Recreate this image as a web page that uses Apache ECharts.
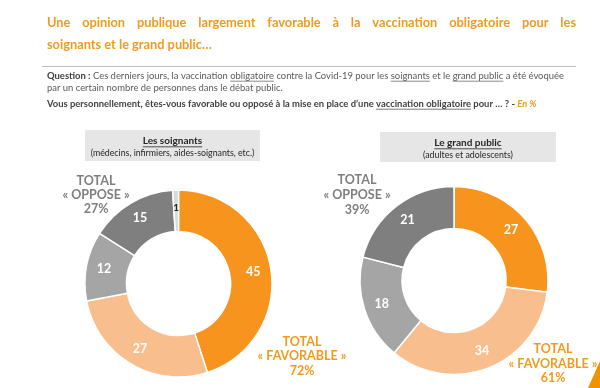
<!DOCTYPE html>
<html><head><meta charset="utf-8">
<script src="https://cdn.jsdelivr.net/npm/echarts@6/dist/echarts.min.js"></script>
<style>html,body{margin:0;padding:0;background:#fff}#c{width:600px;height:388px}</style>
</head><body><div id="c"></div>
<script>
const categories = ['Très favorable', 'Plutôt favorable', 'Plutôt opposé', 'Très opposé', 'Ne se prononce pas'];
const soignantsValues = [45, 27, 12, 15, 1];
const publicValues = [27, 34, 18, 21];
const soignantsTotals = ['72%', '27%'];
const publicTotals = ['61%', '39%'];

const FAM = 'Lato';
const ORANGE = '#F39A1E';
const colors = ['#F7941D', '#F9BE8D', '#A5A5A5', '#7F7F7F', '#D9D9D9'];

const cv = document.createElement('canvas').getContext('2d');
function mw(t, f) { cv.font = f; return cv.measureText(t).width; }
const els = [];
function txt(x, y, t, font, fill, align) {
  els.push({ type: 'text', silent: true, style: { x, y, text: t, font, fill, textAlign: align || 'left', align: align || 'left', textVerticalAlign: 'middle', verticalAlign: 'middle' } });
}
function hline(x1, x2, y, stroke, w) {
  els.push({ type: 'line', silent: true, shape: { x1, y1: y, x2, y2: y }, style: { stroke, lineWidth: w || 0.8 } });
}
// segments: [text, weight, color, underline, italic]
function seqLine(x, y, segs, size) {
  segs.forEach(s => {
    const f = (s[4] ? 'italic ' : '') + s[1] + ' ' + size + 'px ' + FAM;
    const w = mw(s[0], f);
    txt(x, y, s[0], f, s[2]);
    if (s[3]) hline(x, x + w, y + size * 0.55, s[2], 0.7);
    x += w;
  });
  return x;
}

// Title
const t2 = 'soignants et le grand public…';
const tSize = 100 * 165 / mw(t2, 'bold 100px ' + FAM);
const tFont = 'bold ' + tSize.toFixed(2) + 'px ' + FAM;
const words = 'Une opinion publique largement favorable à la vaccination obligatoire pour les'.split(' ');
const wsum = words.reduce((a, w) => a + mw(w, tFont), 0);
const gap = (529 - wsum) / (words.length - 1);
let wx = 47;
words.forEach(w => { txt(wx, 23, w, tFont, ORANGE); wx += mw(w, tFont) + gap; });
txt(47, 45, t2, tFont, ORANGE);
hline(42, 576, 66.5, '#BFBFBF', 1.2);

// Question
const q1 = [['Question :', 'bold', '#404040'], [' Ces derniers jours, la vaccination ', 'normal', '#595959'], ['obligatoire', 'normal', '#595959', 1], [' contre la Covid-19 pour les ', 'normal', '#595959'], ['soignants', 'normal', '#595959', 1], [' et le ', 'normal', '#595959'], ['grand public', 'normal', '#595959', 1], [' a été évoquée', 'normal', '#595959']];
let qw = 0; q1.forEach(s => qw += mw(s[0], s[1] + ' 100px ' + FAM));
const qSize = +(100 * 518 / qw).toFixed(2);
seqLine(47, 76, q1, qSize);
seqLine(47, 88, [['par un certain nombre de personnes dans le débat public.', 'normal', '#595959']], qSize);
seqLine(47, 104, [['Vous personnellement, êtes-vous favorable ou opposé à la mise en place d’une ', 'bold', '#404040'], ['vaccination obligatoire', 'bold', '#404040', 1], [' pour … ? - ', 'bold', '#404040'], ['En %', 'bold', ORANGE, 0, 1]], qSize);

// Header boxes
els.push({ type: 'rect', silent: true, shape: { x: 85, y: 130, width: 175, height: 31 }, style: { fill: '#E7E6E6' } });
els.push({ type: 'rect', silent: true, shape: { x: 380, y: 132, width: 176, height: 30 }, style: { fill: '#E7E6E6' } });
function centerU(cx, y, t, size) {
  const f = 'bold ' + size + 'px ' + FAM; const w = mw(t, f);
  txt(cx, y, t, f, '#262626', 'center');
  hline(cx - w / 2, cx + w / 2, y + size * 0.58, '#262626', 0.8);
}
centerU(172.5, 141, 'Les soignants', 10);
txt(172.5, 153, '(médecins, infirmiers, aides-soignants, etc.)', 'normal 8.8px ' + FAM, '#262626', 'center');
centerU(468, 143, 'Le grand public', 10);
txt(468, 155, '(adultes et adolescents)', 'normal 8.8px ' + FAM, '#262626', 'center');

// Totals
function total(cx, ys, val, col) {
  const f = 'bold 12.5px ' + FAM;
  txt(cx, ys[0], 'TOTAL', f, col, 'center');
  txt(cx, ys[1], ys[3], f, col, 'center');
  txt(cx, ys[2], val, f, col, 'center');
}
total(96, [181, 195, 209, '« OPPOSE »'], soignantsTotals[1], '#7F7F7F');
total(302, [342, 356, 371, '« FAVORABLE »'], soignantsTotals[0], ORANGE);
total(357, [180, 195, 210, '« OPPOSE »'], publicTotals[1], '#7F7F7F');
total(553, [349, 364, 378, '« FAVORABLE »'], publicTotals[0], ORANGE);

els.push({ type: 'polygon', silent: true, shape: { points: [[588, 388], [600, 361], [600, 388]] }, style: { fill: '#F39200' } });

function mkData(vals) {
  return vals.map((v, i) => {
    const d = { name: categories[i], value: v, itemStyle: { color: colors[i] } };
    if (v < 3) d.label = { color: '#262626', fontSize: 10 };
    return d;
  });
}
const pieBase = {
  type: 'pie', startAngle: 90, clockwise: true, silent: true, animation: false,
  itemStyle: { borderColor: '#fff', borderWidth: 1.5 },
  label: { show: true, position: 'inside', formatter: '{c}', color: '#fff', fontWeight: 'bold', fontSize: 12.5, fontFamily: FAM },
  labelLine: { show: false }
};
const chart = echarts.init(document.getElementById('c'), null, { renderer: 'canvas' });
chart.setOption({
  animation: false,
  graphic: { elements: els },
  series: [
    Object.assign({}, pieBase, { center: [178.5, 283.5], radius: [52, 93.5], data: mkData(soignantsValues) }),
    Object.assign({}, pieBase, { center: [454, 280.5], radius: [52, 94], data: mkData(publicValues) })
  ]
});
</script></body></html>
